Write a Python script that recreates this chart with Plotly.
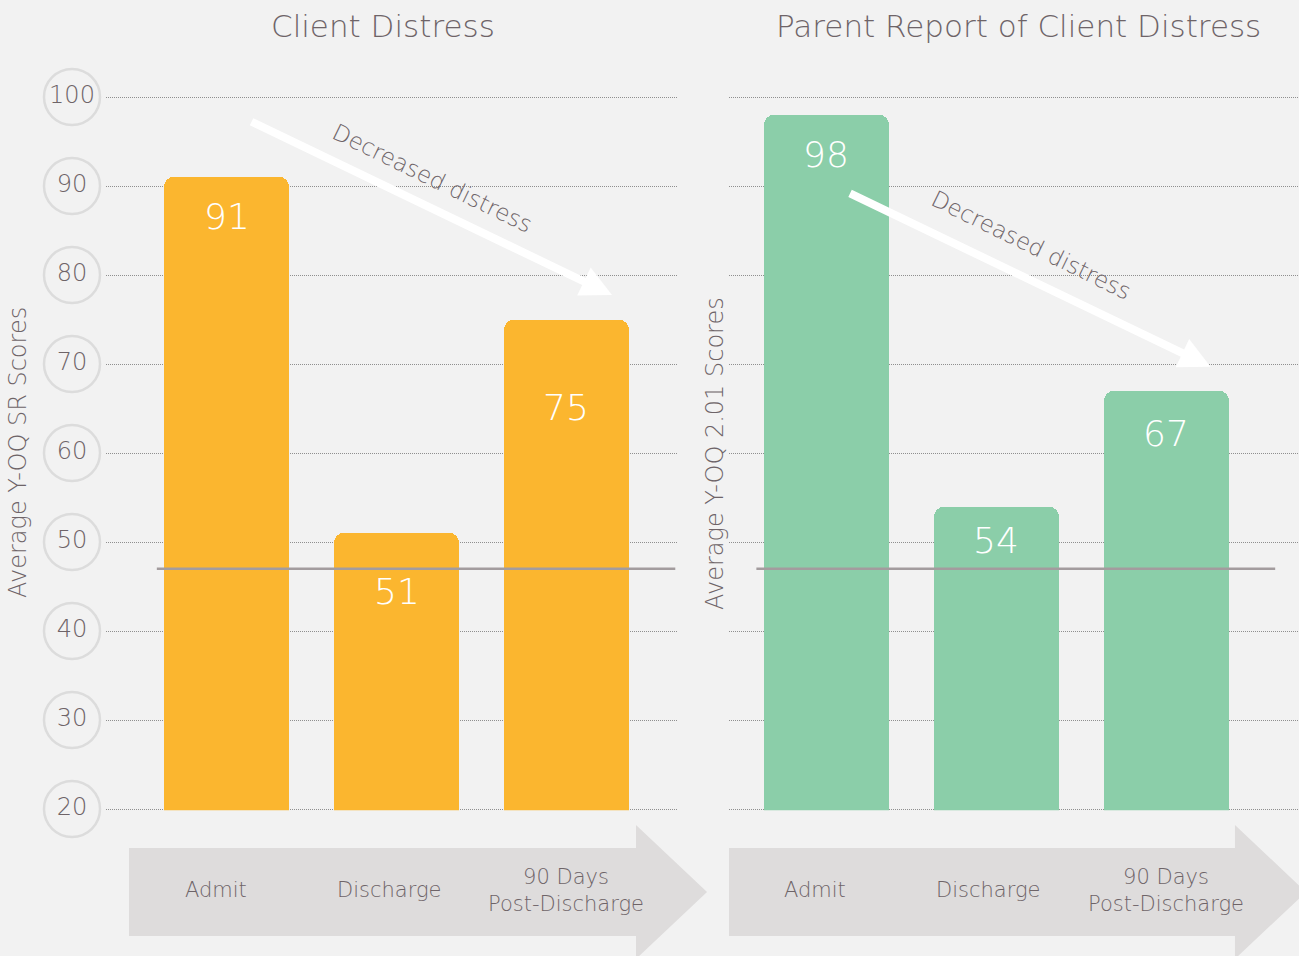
import plotly.graph_objects as go

# ---------------- data ----------------
CATEGORIES = ["Admit", "Discharge", "90 Days<br>Post-Discharge"]
CLIENT_SCORES = [91, 51, 75]
PARENT_SCORES = [98, 54, 67]
CUTOFF = 47
Y_TICKS = [20, 30, 40, 50, 60, 70, 80, 90, 100]
TITLES = ["Client Distress", "Parent Report of Client Distress"]
Y_TITLES = ["Average Y-OQ SR Scores", "Average Y-OQ 2.01 Scores"]
TREND_TEXT = "Decreased distress"

# ---------------- style ----------------
W, H = 1299, 956
FONT = "DejaVu Sans"
WT = 200
TXT = "#6e6468"
BG = "#f2f2f2"
ORANGE = "#fbb62f"
GREEN = "#8bcea9"
GRID = "#8f8f8f"
ARROW_BG = "#dedcdc"
LABEL_SHIFT_L = [-39, -58, -88]
LABEL_SHIFT_R = [-40, -34, -43]
CAT_SHIFT = [-11, -8, 0]

Y_RANGE = [19.85, 100.15]
PX_PER_UNIT = 8.9          # vertical pixels per score unit
Y_TOP_PX = 97 - (Y_RANGE[1] - 100) * PX_PER_UNIT
Y_BOT_PX = 809 + (20 - Y_RANGE[0]) * PX_PER_UNIT


def px(x):
    return x / W


def py(y):
    return 1 - y / H


xpos = list(range(len(CATEGORIES)))

fig = go.Figure()

for scores, color, xa, ya in [(CLIENT_SCORES, ORANGE, "x", "y"), (PARENT_SCORES, GREEN, "x2", "y2")]:
    fig.add_trace(go.Bar(
        x=xpos, y=scores, xaxis=xa, yaxis=ya, width=0.735,
        marker=dict(color=color, cornerradius=10, line=dict(width=0)),
        hoverinfo="skip", showlegend=False,
    ))

# circled tick labels on their own (grid-less) copy of the y scale
fig.add_trace(go.Scatter(
    x=[72] * len(Y_TICKS), y=Y_TICKS, xaxis="x3", yaxis="y3",
    mode="markers+text", text=[str(t) for t in Y_TICKS], textposition="middle center",
    textfont=dict(family=FONT, size=24, color=TXT, weight=WT),
    marker=dict(size=56, color=BG, line=dict(color="#dcdcdc", width=2.5)),
    cliponaxis=False, hoverinfo="skip", showlegend=False,
))

axis_common = dict(showgrid=True, gridcolor=GRID, griddash="1px,1px", gridwidth=1,
                   tickvals=Y_TICKS, showticklabels=False, zeroline=False,
                   showline=False, range=Y_RANGE, ticks="")
xaxis_common = dict(showgrid=False, zeroline=False, showticklabels=False, showline=False, ticks="")
ydom = [py(Y_BOT_PX), py(Y_TOP_PX)]

fig.update_layout(
    width=W, height=H,
    margin=dict(l=0, r=0, t=0, b=0),
    paper_bgcolor=BG, plot_bgcolor=BG,
    font=dict(family=FONT, color=TXT, weight=WT),
    xaxis=dict(domain=[px(106), px(678)], range=[-0.709, 2.656], **xaxis_common),
    xaxis2=dict(domain=[px(729), 1.0], range=[-0.571, 2.78], anchor="y2", **xaxis_common),
    xaxis3=dict(domain=[0, px(106)], range=[0, 106], anchor="y3", **xaxis_common),
    yaxis=dict(domain=ydom, anchor="x", **axis_common),
    yaxis2=dict(domain=ydom, anchor="x2", **axis_common),
    yaxis3=dict(domain=ydom, anchor="x3", range=Y_RANGE, showgrid=False, zeroline=False,
                showticklabels=False, showline=False, ticks=""),
    bargap=0,
)

shapes = []
# cutoff lines
for xr, yr in [("x", "y"), ("x2", "y2")]:
    shapes.append(dict(type="line", xref=xr, yref=yr,
                       x0=-0.41, x1=2.64, y0=CUTOFF, y1=CUTOFF,
                       line=dict(color="#a39c9e", width=2.5), layer="above"))


# bottom timeline arrows
def arrow_path(x0, xh, xt):
    pts = [(x0, 848), (xh, 848), (xh, 825), (xt, 892), (xh, 959), (xh, 936), (x0, 936)]
    return "M " + " L ".join(f"{px(a):.4f},{py(b):.4f}" for a, b in pts) + " Z"


for x0, xh, xt in [(129, 636, 707), (729, 1235, 1306)]:
    shapes.append(dict(type="path", xref="paper", yref="paper", path=arrow_path(x0, xh, xt),
                       fillcolor=ARROW_BG, line=dict(width=0), layer="below"))
fig.update_layout(shapes=shapes)


def f(size, color=TXT):
    return dict(size=size, color=color, family=FONT, weight=WT)


ann = []
# titles
for t, cx in zip(TITLES, [383, 1018]):
    ann.append(dict(text=t, x=px(cx), y=py(26), xref="paper", yref="paper", xanchor="center",
                    yanchor="middle", showarrow=False, font=f(31)))
# y titles
for t, cx, cy in zip(Y_TITLES, [18, 715], [453, 454]):
    ann.append(dict(text=t, x=px(cx), y=py(cy), xref="paper", yref="paper", textangle=-90,
                    xanchor="center", yanchor="middle", showarrow=False, font=f(24)))
# bar value labels
for scores, shifts, xr, yr in [(CLIENT_SCORES, LABEL_SHIFT_L, "x", "y"), (PARENT_SCORES, LABEL_SHIFT_R, "x2", "y2")]:
    for i, (v, s) in enumerate(zip(scores, shifts)):
        ann.append(dict(text=str(v), x=i, y=v, xref=xr, yref=yr, yshift=s, showarrow=False,
                        xanchor="center", yanchor="middle", font=f(36, "white")))
# category labels
for xr in ["x", "x2"]:
    for i, (c, s) in enumerate(zip(CATEGORIES, CAT_SHIFT)):
        ann.append(dict(text=c, x=i, y=py(890), xref=xr, yref="paper", xshift=s, showarrow=False,
                        xanchor="center", yanchor="middle", font=f(21)))
# trend arrows + text
for xr, yr, tip, tx in [("x", "y", (2.268, 77.75), (1.209, 90.9)), ("x2", "y2", (2.26, 69.7), (1.206, 83.4))]:
    ann.append(dict(text="", x=tip[0], y=tip[1], xref=xr, yref=yr, showarrow=True,
                    ax=-362, ay=-174, arrowcolor="white", arrowwidth=8, arrowhead=2, arrowsize=0.78))
    ann.append(dict(text=TREND_TEXT, x=tx[0], y=tx[1], xref=xr, yref=yr, showarrow=False, textangle=26,
                    xanchor="center", yanchor="middle", font=f(23)))
fig.update_layout(annotations=ann)

fig.write_html("out.html", config={"displayModeBar": False},
               post_script="document.body.style.margin='0';document.body.style.overflow='hidden';")
